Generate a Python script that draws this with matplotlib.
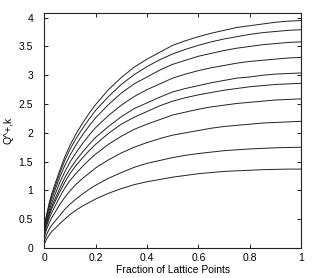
import numpy as np
import matplotlib
matplotlib.use('Agg')
import matplotlib.pyplot as plt

# fraction of lattice points (x) shared by all curves
frac = [0, 0.005, 0.01, 0.02, 0.03, 0.045, 0.06, 0.08, 0.1, 0.125, 0.15, 0.175, 0.2,
        0.25, 0.3, 0.35, 0.4, 0.45, 0.5, 0.55, 0.6, 0.65, 0.7, 0.75, 0.8, 0.85, 0.9, 0.95, 1.0]

# Q^+,k values, top curve first
q1 = [0.40, 0.49, 0.59, 0.79, 0.95, 1.15, 1.34, 1.58, 1.78, 1.99, 2.17, 2.34, 2.49,
      2.75, 2.96, 3.14, 3.28, 3.40, 3.52, 3.60, 3.67, 3.73, 3.78, 3.83, 3.86, 3.89, 3.92, 3.94, 3.95]
q2 = [0.38, 0.47, 0.57, 0.76, 0.91, 1.10, 1.29, 1.52, 1.71, 1.91, 2.08, 2.24, 2.39,
      2.63, 2.84, 3.01, 3.15, 3.27, 3.37, 3.45, 3.52, 3.58, 3.63, 3.67, 3.71, 3.74, 3.76, 3.78, 3.79]
q3 = [0.36, 0.45, 0.54, 0.72, 0.86, 1.04, 1.22, 1.43, 1.61, 1.80, 1.97, 2.12, 2.26,
      2.49, 2.69, 2.85, 2.97, 3.09, 3.19, 3.26, 3.33, 3.38, 3.43, 3.47, 3.50, 3.53, 3.55, 3.57, 3.58]
q4 = [0.33, 0.41, 0.50, 0.66, 0.79, 0.96, 1.13, 1.32, 1.49, 1.66, 1.82, 1.96, 2.09,
      2.30, 2.48, 2.63, 2.75, 2.85, 2.95, 3.02, 3.08, 3.13, 3.17, 3.21, 3.24, 3.26, 3.28, 3.30, 3.31]
q5 = [0.30, 0.38, 0.46, 0.61, 0.73, 0.88, 1.03, 1.22, 1.37, 1.53, 1.67, 1.80, 1.92,
      2.11, 2.28, 2.42, 2.52, 2.62, 2.71, 2.77, 2.82, 2.87, 2.91, 2.95, 2.97, 3.00, 3.02, 3.03, 3.04]
q6 = [0.28, 0.36, 0.43, 0.57, 0.69, 0.83, 0.97, 1.14, 1.29, 1.44, 1.57, 1.69, 1.80,
      1.99, 2.15, 2.27, 2.37, 2.47, 2.55, 2.61, 2.66, 2.70, 2.74, 2.77, 2.80, 2.82, 2.84, 2.85, 2.86]
q7 = [0.24, 0.31, 0.39, 0.52, 0.62, 0.75, 0.88, 1.04, 1.17, 1.30, 1.42, 1.53, 1.63,
      1.80, 1.94, 2.06, 2.15, 2.23, 2.31, 2.36, 2.41, 2.45, 2.48, 2.51, 2.53, 2.55, 2.57, 2.58, 2.59]
q8 = [0.19, 0.26, 0.33, 0.44, 0.53, 0.64, 0.75, 0.88, 0.99, 1.11, 1.21, 1.30, 1.39,
      1.53, 1.65, 1.75, 1.83, 1.90, 1.96, 2.00, 2.04, 2.08, 2.11, 2.13, 2.15, 2.17, 2.18, 2.19, 2.20]
q9 = [0.12, 0.18, 0.24, 0.33, 0.40, 0.48, 0.56, 0.67, 0.76, 0.855, 0.94, 1.02, 1.09,
      1.21, 1.31, 1.40, 1.47, 1.52, 1.57, 1.61, 1.64, 1.665, 1.69, 1.705, 1.72, 1.73, 1.74, 1.745, 1.75]
q10 = [0.07, 0.11, 0.16, 0.23, 0.29, 0.35, 0.42, 0.50, 0.58, 0.66, 0.73, 0.79, 0.85,
       0.95, 1.03, 1.10, 1.15, 1.19, 1.23, 1.26, 1.29, 1.31, 1.33, 1.34, 1.35, 1.36, 1.365, 1.37, 1.37]

curves = [q1, q2, q3, q4, q5, q6, q7, q8, q9, q10]

xticks = [0, 0.2, 0.4, 0.6, 0.8, 1]
xticklabels = ['0', '0.2', '0.4', '0.6', '0.8', '1']
yticks = [0, 0.5, 1, 1.5, 2, 2.5, 3, 3.5, 4]
yticklabels = ['0', '0.5', '1', '1.5', '2', '2.5', '3', '3.5', '4']

plt.rcParams['font.family'] = ['Liberation Sans', 'DejaVu Sans']

fig = plt.figure(figsize=(3.18, 2.78), dpi=100)
ax = fig.add_axes([0.139, 0.108, 0.808, 0.845])

for q in curves:
    ax.plot(frac, q, color='#222222', lw=0.7)

ax.set_xlim(0, 1)
ax.set_ylim(0, 4.08)

# gnuplot style: ticks inside, mirrored on all sides
ax.set_xticks(xticks)
ax.set_xticklabels(xticklabels)
ax.set_yticks(yticks)
ax.set_yticklabels(yticklabels)
ax.tick_params(direction='in', top=True, right=True, length=3, width=0.7,
               labelsize=7.5, color='#222222')
ax.tick_params(axis='x', pad=3.5)
ax.tick_params(axis='y', pad=8)
for s in ax.spines.values():
    s.set_linewidth(0.8)
    s.set_color('#222222')

ax.set_xlabel('Fraction of Lattice Points', fontsize=7.5, labelpad=1.5)
ax.set_ylabel('Q^+,k', fontsize=7.5, labelpad=4)

plt.savefig('out.png', dpi=100)
